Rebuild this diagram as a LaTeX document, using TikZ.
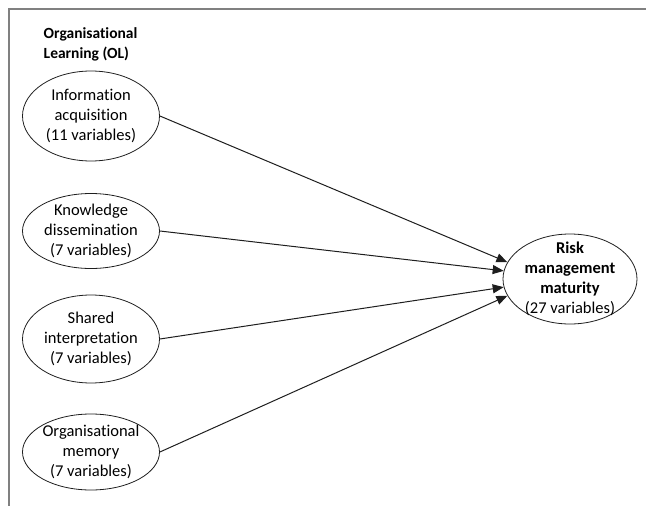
\documentclass[tikz,border=0pt]{standalone}
\usepackage{fontspec}
\setmainfont{Carlito}[Ligatures=NoCommon]
\usetikzlibrary{shapes.geometric,arrows.meta}
\definecolor{frgray}{RGB}{128,128,128}
\definecolor{olink}{RGB}{30,30,30}

\begin{document}
\begin{tikzpicture}[x=1pt,y=-1pt,line width=0.8pt,
  olvar/.style={draw=olink,ellipse,inner sep=0pt,minimum width=137pt,
    align=center,font=\fontsize{16.5}{20}\selectfont},
  olarrow/.style={draw=olink,line width=1pt,-{Triangle[length=11pt,width=9pt]}}]
  \useasboundingbox (0,0) rectangle (646,506);
  % frame
  \draw[frgray,line width=1.6pt] (9,506) -- (9,9) -- (646,9);
  \node[anchor=north west,align=left,font=\fontsize{15.5}{19.5}\selectfont\bfseries] (ol) at (40,24) {Organisational\\Learning (OL)};
  % the four OL dimensions
  \node[olvar,minimum height=90pt] (info) at (91,116) {Information\\acquisition\\(11 variables)};
  \node[olvar,inner ysep=-2pt,minimum height=75pt] (know) at (91,231) {Knowledge\\dissemination\\(7 variables)};
  \node[olvar,minimum height=88pt] (shared) at (91,339) {Shared\\interpretation\\(7 variables)};
  \node[olvar,inner ysep=-2pt,minimum height=76pt] (memory) at (91,452) {Organisational\\memory\\(7 variables)};
  % outcome
  \node[olvar,inner ysep=-6pt,minimum width=134pt,minimum height=90pt] (risk) at (570,279) {\textbf{Risk}\\\textbf{management}\\\textbf{maturity}\\(27 variables)};
  \draw[olarrow] (info.east) -- (risk.165);
  \draw[olarrow] (know.east) -- (risk.173);
  \draw[olarrow] (shared.east) -- (risk.187);
  \draw[olarrow] (memory.east) -- (risk.195);
\end{tikzpicture}
\end{document}
